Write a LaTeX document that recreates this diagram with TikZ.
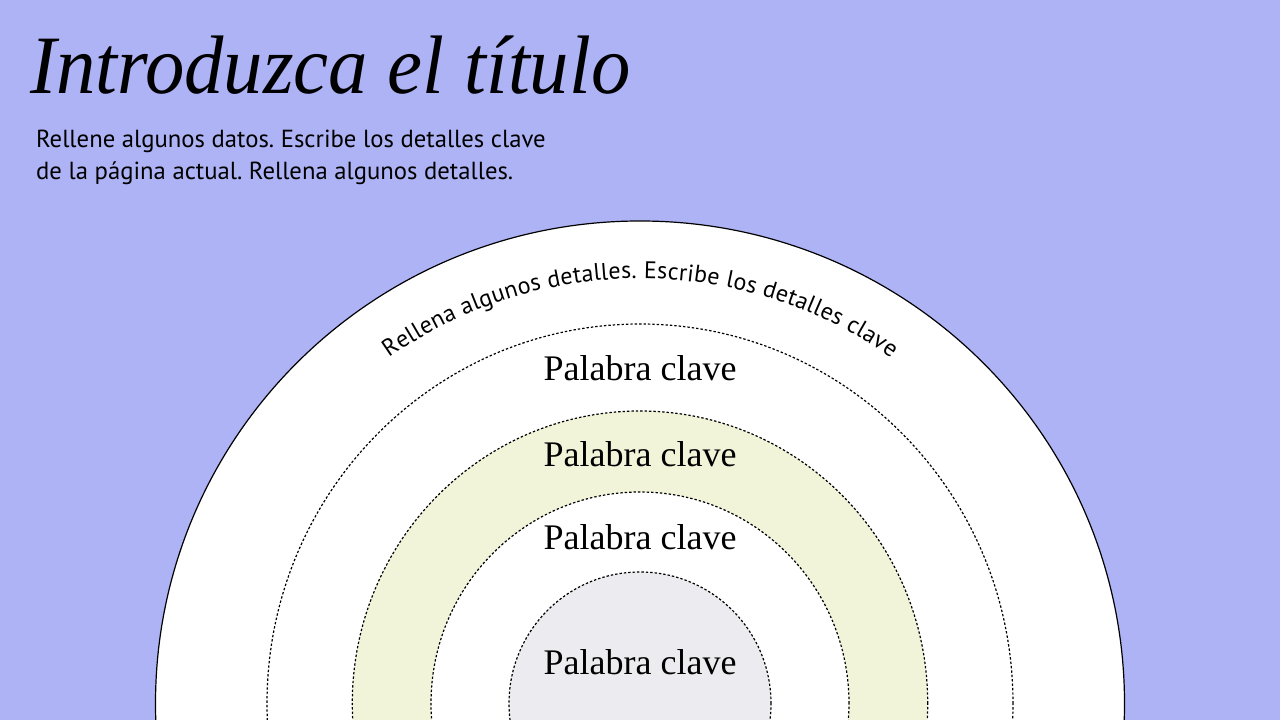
\documentclass[tikz,border=0pt]{standalone}
\usepackage{fontspec}
\usepackage{graphicx}
\setmainfont{Liberation Serif}
\newfontfamily\bodyfont{PT Sans}
\newfontfamily\titlefont{Liberation Serif}
\usetikzlibrary{decorations.text}
\definecolor{bgblue}{HTML}{ADB3F5}
\definecolor{ringyellow}{HTML}{F1F4D9}
\definecolor{coregray}{HTML}{ECEBF0}
\frenchspacing
\tikzset{
  dotline/.style={draw=black, line width=1.2pt, dash pattern=on 2.4pt off 2pt},
  keyword/.style={font=\fontsize{36}{40}\selectfont, anchor=base, inner sep=0pt},
  bodytext/.style={font=\bodyfont\fontsize{24.7}{32.5}\selectfont, anchor=base west, inner sep=0pt, align=left},
}
\begin{document}
\begin{tikzpicture}[x=1pt,y=1pt]
\useasboundingbox (0,0) rectangle (1280,720);
\fill[bgblue] (0,0) rectangle (1280,720);
\begin{scope}
  \clip (0,0) rectangle (1280,720);
  \coordinate (O) at (640,16.5);
  \filldraw[fill=white, draw=black, line width=1.2pt] (O) ellipse[x radius=484.5pt, y radius=482.5pt];
  \path[fill=white, dotline] (O) ellipse[x radius=373pt, y radius=379.5pt];
  \path[fill=ringyellow, dotline] (O) ellipse[x radius=287.7pt, y radius=292.5pt];
  \path[fill=white, dotline] (O) ellipse[x radius=209pt, y radius=211.5pt];
  \path[fill=coregray, dotline] (O) ellipse[x radius=131pt, y radius=131.5pt];
\end{scope}
\coordinate (C) at (640,5);
\path[decorate, decoration={text along path, text format delimiters={|}{|},
   text={|\bodyfont\fontsize{24}{28}\selectfont|Rellena algunos detalles. Escribe los detalles clave},
   text align=fit to path}]
   (C) ++(125.1:436.5pt) arc[start angle=125.1, end angle=54.9, radius=436.5pt];
\node[anchor=base west, inner sep=0pt] (title) at (30,626)
  {\scalebox{0.948}[1]{\titlefont\itshape\fontsize{83}{90}\selectfont Introduzca el título}};
\node[bodytext] (body1) at (36,572.3) {Rellene algunos datos. Escribe los detalles clave};
\node[bodytext] (body2) at (36,540) {de la página actual. Rellena algunos detalles.};
\node[keyword] (k1) at (640,339) {Palabra clave};
\node[keyword] (k2) at (640,253) {Palabra clave};
\node[keyword] (k3) at (640,170) {Palabra clave};
\node[keyword] (k4) at (640,45) {Palabra clave};
\end{tikzpicture}
\end{document}
